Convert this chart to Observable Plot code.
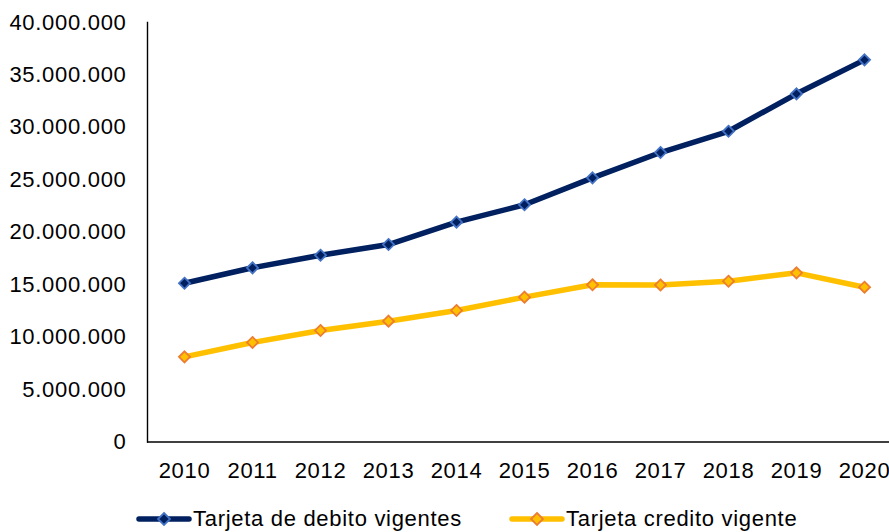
<!DOCTYPE html>
<html>
<head>
<meta charset="utf-8">
<script src="https://cdn.jsdelivr.net/npm/d3@7"></script>
<script src="https://cdn.jsdelivr.net/npm/@observablehq/plot@0.6"></script>
<style>
  html, body { margin: 0; padding: 0; background: #fff; }
  #wrap { position: relative; width: 889px; height: 532px; overflow: hidden; font-family: "Liberation Sans", Arial, sans-serif; }
  #legend { position: absolute; left: 0; top: 480px; width: 889px; height: 52px; }
  .item { position: absolute; top: 26px; height: 26px; display: flex; align-items: center; font-size: 22px; letter-spacing: 0.7px; color: #000; white-space: nowrap; }
  .item svg { display: block; margin-right: 1px; }
  #chart svg text { letter-spacing: 0.7px; }
</style>
</head>
<body>
<div id="wrap"><div id="chart"></div><div id="legend"></div></div>
<script>
const years = ["2010","2011","2012","2013","2014","2015","2016","2017","2018","2019","2020"];
const debito = [15140000, 16610000, 17810000, 18830000, 20960000, 22620000, 25190000, 27600000, 29630000, 33200000, 36440000];
const credito = [8120000, 9490000, 10630000, 11520000, 12540000, 13810000, 14990000, 14970000, 15330000, 16130000, 14760000];
const seriesNames = ["Tarjeta de debito vigentes", "Tarjeta credito vigente"];
const yTicks = [0, 5000000, 10000000, 15000000, 20000000, 25000000, 30000000, 35000000, 40000000];

const lineColors = ["#002060", "#FFC000"];
const markerStroke = ["#4472C4", "#ED7D31"];

const rows = [];
years.forEach((y, i) => {
  rows.push({year: y, value: debito[i], s: 0});
  rows.push({year: y, value: credito[i], s: 1});
});

const fmt = d3.formatLocale({decimal: ",", thousands: ".", grouping: [3], currency: ["", ""]}).format(",");

const W = 889, H = 480;
const chart = Plot.plot({
  width: W,
  height: H,
  marginLeft: 147,
  marginRight: 0,
  marginTop: 22,
  marginBottom: 38.5,
  style: {fontFamily: "'Liberation Sans', Arial, sans-serif", fontSize: "22px", color: "#000", background: "#fff"},
  x: {type: "point", domain: years, range: [147, 900.5], padding: 0.5, label: null},
  y: {domain: [0, 40000000], range: [441.5, 22], label: null},
  marks: [
    Plot.axisY({ticks: yTicks, tickFormat: fmt, tickSize: 0, tickPadding: 21, fontSize: 22, label: null}),
    Plot.axisX({tickSize: 0, tickPadding: 20, fontSize: 22, label: null}),
    Plot.frame({anchor: "left", stroke: "#000", strokeWidth: 1.4}),
    Plot.ruleY([0], {stroke: "#000", strokeWidth: 1.4}),
    ...[0, 1].map(s => Plot.line(rows.filter(d => d.s === s), {x: "year", y: "value", stroke: lineColors[s], strokeWidth: 5.5, strokeLinejoin: "round", strokeLinecap: "round"})),
    ...[0, 1].map(s => Plot.dot(rows.filter(d => d.s === s), {x: "year", y: "value", symbol: "diamond2", r: 5, fill: lineColors[s], stroke: markerStroke[s], strokeWidth: 1.8}))
  ]
});
document.getElementById("chart").appendChild(chart);

// Legend
const legend = document.getElementById("legend");
const legendX = [136, 509];
seriesNames.forEach((name, s) => {
  const item = document.createElement("div");
  item.className = "item";
  item.style.left = legendX[s] + "px";
  const sw = d3.create("svg").attr("width", 56).attr("height", 26);
  sw.append("line").attr("x1", 3).attr("x2", 53).attr("y1", 13).attr("y2", 13)
    .attr("stroke", lineColors[s]).attr("stroke-width", 5.5).attr("stroke-linecap", "round");
  sw.append("path").attr("d", "M28,7 L34,13 L28,19 L22,13 Z")
    .attr("fill", lineColors[s]).attr("stroke", markerStroke[s]).attr("stroke-width", 1.8);
  item.appendChild(sw.node());
  const t = document.createElement("span");
  t.textContent = name;
  item.appendChild(t);
  legend.appendChild(item);
});
</script>
</body>
</html>
